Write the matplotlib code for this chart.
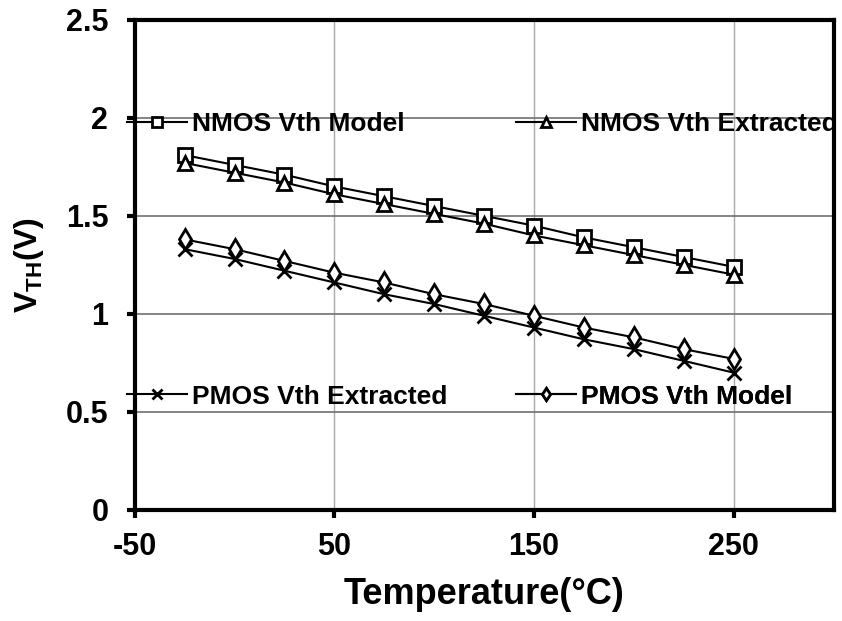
import matplotlib
matplotlib.use('Agg')
import matplotlib.pyplot as plt

plt.rcParams['font.family'] = ['Liberation Sans', 'DejaVu Sans']
plt.rcParams['font.weight'] = 'bold'
plt.rcParams['axes.unicode_minus'] = False
plt.rcParams['mathtext.fontset'] = 'custom'
plt.rcParams['mathtext.rm'] = 'Liberation Sans:bold'
plt.rcParams['mathtext.bf'] = 'Liberation Sans:bold'
plt.rcParams['mathtext.default'] = 'bf'

# temperature points
temp = [-25, 0, 25, 50, 75, 100, 125, 150, 175, 200, 225, 250]

nmos_model = [1.81, 1.76, 1.71, 1.65, 1.60, 1.55, 1.50, 1.45, 1.39, 1.34, 1.29, 1.24]
nmos_extracted = [1.77, 1.72, 1.67, 1.61, 1.56, 1.51, 1.46, 1.40, 1.35, 1.30, 1.25, 1.20]
pmos_model = [1.38, 1.33, 1.27, 1.21, 1.16, 1.10, 1.05, 0.99, 0.93, 0.88, 0.82, 0.77]
pmos_extracted = [1.33, 1.28, 1.22, 1.16, 1.10, 1.05, 0.99, 0.93, 0.87, 0.82, 0.76, 0.70]

xticks = [-50, 50, 150, 250]
yticks = [0, 0.5, 1, 1.5, 2, 2.5]
ytick_labels = ['0', '0.5', '1', '1.5', '2', '2.5']

fig = plt.figure(figsize=(8.42, 6.21), dpi=100)
ax = fig.add_axes([0.160, 0.179, 0.830, 0.789])

mk = dict(color='black', linewidth=1.5, markersize=10, markerfacecolor='white',
          markeredgecolor='black', markeredgewidth=2)
l1, = ax.plot(temp, nmos_model, marker='s', label='NMOS Vth Model', **mk)
l2, = ax.plot(temp, nmos_extracted, marker='^', label='NMOS Vth Extracted', **mk)
l3, = ax.plot(temp, pmos_extracted, marker='x', label='PMOS Vth Extracted', **mk)
l4, = ax.plot(temp, pmos_model, marker='d', label='PMOS Vth Model', **mk)

ax.set_xlim(-50, 300)
ax.set_ylim(0, 2.5)
ax.set_xticks(xticks)
ax.set_yticks(yticks)
ax.set_yticklabels(ytick_labels)
ax.xaxis.grid(True, color='#a8a8a8', linewidth=1)
ax.yaxis.grid(True, color='#707070', linewidth=1.2)
ax.set_axisbelow(True)

for s in ax.spines.values():
    s.set_linewidth(3)
ax.tick_params(direction='out', length=6, width=3, labelsize=22)
ax.tick_params(axis='x', pad=10)
ax.tick_params(axis='y', pad=13)

ax.set_xlabel('Temperature(°C)', fontsize=26, fontweight='bold', labelpad=11)
ax.set_ylabel('V$_{TH}$(V)', fontsize=23, fontweight='bold', labelpad=14)

# one legend per entry, placed like the original
entries = [(l1, -0.011, 0.788), (l2, 0.546, 0.788), (l3, -0.011, 0.231), (l4, 0.546, 0.231)]
for h, lx, ly in entries:
    lg = ax.legend(handles=[h], loc='center left', bbox_to_anchor=(lx, ly),
                   frameon=False, fontsize=19, handlelength=2.27, handletextpad=0.2,
                   borderpad=0, borderaxespad=0, markerscale=0.65)
    ax.add_artist(lg)

fig.savefig('out.png', dpi=100)
